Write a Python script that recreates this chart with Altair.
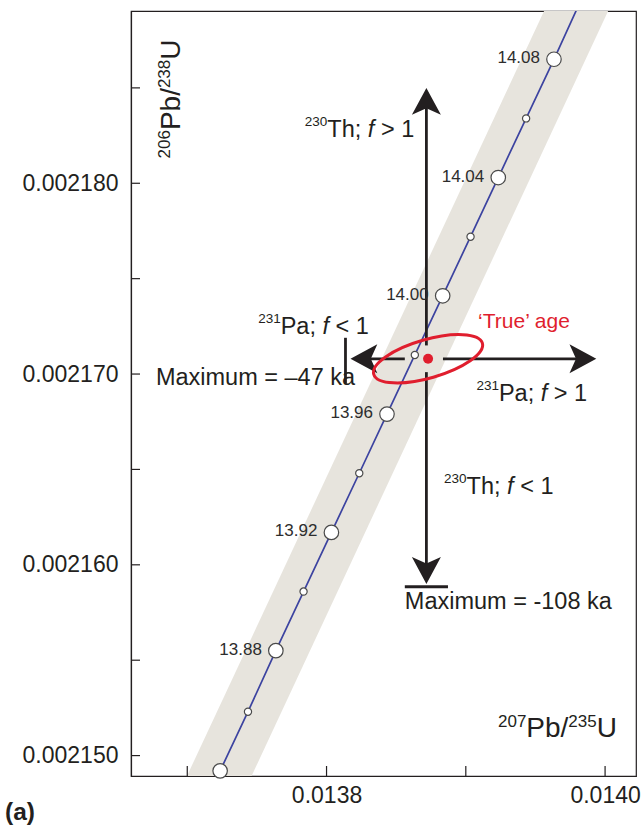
import altair as alt
import pandas as pd

# ---------------- data ----------------
ages = [13.84, 13.86, 13.88, 13.90, 13.92, 13.94, 13.96, 13.98, 14.00, 14.02, 14.04, 14.06, 14.08]
pb207_u235 = [0.0137236, 0.0137436, 0.0137636, 0.0137835, 0.0138035, 0.0138235, 0.0138434,
              0.0138634, 0.0138834, 0.0139034, 0.0139233, 0.0139433, 0.0139633]
pb206_u238 = [0.0021492, 0.0021523, 0.0021555, 0.0021586, 0.0021617, 0.0021648, 0.0021679,
              0.0021710, 0.0021741, 0.0021772, 0.0021803, 0.0021834, 0.0021865]
point_kind = ["major", "minor", "major", "minor", "major", "minor", "major",
              "minor", "major", "minor", "major", "minor", "major"]
age_labels = ["", "", "13.88", "", "13.92", "", "13.96", "", "14.00", "", "14.04", "", "14.08"]
# curve continues past the top edge (14.10 Ma)
curve_ext_x = [0.0139833]
curve_ext_y = [0.0021897]

# uncertainty band edges
band_y = [0.00214893, 0.00218903]
band_left = [0.0136998, 0.0139562]
band_right = [0.0137462, 0.0140022]

# 'true' age
true_x = [0.0138729]
true_y = [0.0021708]

# arrows
arrow_x = 0.0138717
arrow_y = 0.0021708
up_seg = [0.0021715, 0.0021841]
down_seg = [0.0021701, 0.0021597]
left_seg = [0.0138562, 0.0138239]
right_seg = [0.0138836, 0.0139853]
tip_up = (0.0138717, 0.0021850)
tip_down = (0.0138717, 0.0021590)
tip_left = (0.0138172, 0.0021708)
tip_right = (0.0139937, 0.0021708)
bar_down_x = [0.0138562, 0.0138872]
bar_down_y = 0.00215885
bar_left_x = 0.0138136
bar_left_y = [0.0021719, 0.0021695]

x_tick_values = [0.0137, 0.0138, 0.0139, 0.0140]
x_label_values = [0.0138, 0.0140]
y_tick_values = [0.00215, 0.002155, 0.00216, 0.002165, 0.00217, 0.002175, 0.00218, 0.002185]
y_label_values = [0.00215, 0.00216, 0.00217, 0.00218]

# ---------------- styling ----------------
FONT = "Liberation Sans"
INK = "#231f20"
RED = "#e01e2e"
LINE = "#3c43a0"
BAND = "#e7e4dd"

xs = alt.Scale(domain=[0.0136596, 0.0140222], nice=False, zero=False)
ys = alt.Scale(domain=[0.00214893, 0.00218903], nice=False, zero=False)
xaxis = alt.Axis(values=x_label_values, format=".4f", title=None, ticks=False, grid=False,
                 labelFont=FONT, labelFontSize=23, labelColor=INK, labelPadding=8,
                 labelFlush=False, domainColor=INK, domainWidth=1.2)
yaxis = alt.Axis(values=y_label_values, format=".6f", title=None, ticks=False, grid=False,
                 labelFont=FONT, labelFontSize=23, labelColor=INK, labelPadding=13,
                 labelFlush=False, domainColor=INK, domainWidth=1.2)


def X(f):
    return alt.X(f, type="quantitative", scale=xs, axis=xaxis)


def Y(f):
    return alt.Y(f, type="quantitative", scale=ys, axis=yaxis)


layers = []

# band
band_df = pd.DataFrame({"y": band_y, "l": band_left, "r": band_right})
layers.append(alt.Chart(band_df).mark_area(orient="horizontal", color=BAND, clip=True)
              .encode(y=Y("y"), x=X("l"), x2=alt.X2("r")))

# concordia line
line_df = pd.DataFrame({"x": pb207_u235 + curve_ext_x, "y": pb206_u238 + curve_ext_y,
                        "o": list(range(len(pb207_u235) + 1))})
layers.append(alt.Chart(line_df).mark_line(color=LINE, strokeWidth=1.7, clip=True)
              .encode(x=X("x"), y=Y("y"), order="o:Q"))

# inward ticks
ytick_df = pd.DataFrame({"v": y_tick_values})
layers.append(alt.Chart(ytick_df).mark_rule(color=INK, strokeWidth=1.2)
              .encode(y=Y("v"), x=alt.value(0), x2=alt.value(9)))
xtick_df = pd.DataFrame({"v": x_tick_values})
layers.append(alt.Chart(xtick_df).mark_rule(color=INK, strokeWidth=1.2)
              .encode(x=X("v"), y=alt.value(765), y2=alt.value(755)))

# arrow shafts and bars
seg_df = pd.DataFrame({
    "x1": [arrow_x, arrow_x, left_seg[0], right_seg[0], bar_down_x[0], bar_left_x],
    "x2": [arrow_x, arrow_x, left_seg[1], right_seg[1], bar_down_x[1], bar_left_x],
    "y1": [up_seg[0], down_seg[0], arrow_y, arrow_y, bar_down_y, bar_left_y[0]],
    "y2": [up_seg[1], down_seg[1], arrow_y, arrow_y, bar_down_y, bar_left_y[1]],
})
layers.append(alt.Chart(seg_df).mark_rule(color=INK, strokeWidth=2.8)
              .encode(x=X("x1"), x2=alt.X2("x2"), y=Y("y1"), y2=alt.Y2("y2")))

# arrow heads (tip at the origin, pointing up)
HEAD = "M0,0L1,1.85L0,1.4L-1,1.85Z"
for (hx, hy), ang in [(tip_up, 0), (tip_right, 90), (tip_down, 180), (tip_left, 270)]:
    hdf = pd.DataFrame({"x": [hx], "y": [hy]})
    layers.append(alt.Chart(hdf).mark_point(shape=HEAD, size=841, angle=ang, filled=True,
                                            color=INK, opacity=1, strokeWidth=0)
                  .encode(x=X("x"), y=Y("y")))

# error ellipse
ELLIPSE = ("M-1,0C-1,-0.1878,-0.5523,-0.34,0,-0.34C0.5523,-0.34,1,-0.1878,1,0"
           "C1,0.1878,0.5523,0.34,0,0.34C-0.5523,0.34,-1,0.1878,-1,0Z")
true_df = pd.DataFrame({"x": true_x, "y": true_y})
layers.append(alt.Chart(true_df).mark_point(shape=ELLIPSE, size=12769, angle=344, filled=False,
                                            stroke=RED, strokeWidth=3, opacity=1)
              .encode(x=X("x"), y=Y("y")))

# concordia points
pts_df = pd.DataFrame({"x": pb207_u235, "y": pb206_u238, "kind": point_kind, "label": age_labels})
layers.append(alt.Chart(pts_df).mark_point(shape="circle", filled=True, fill="white", stroke="#4a4a4a",
                                           strokeWidth=1.2, opacity=1)
              .encode(x=X("x"), y=Y("y"),
                      size=alt.Size("kind:N", scale=alt.Scale(domain=["major", "minor"], range=[210, 52]),
                                    legend=None)))
layers.append(alt.Chart(pts_df).mark_text(align="right", baseline="middle", dx=-14, dy=-1,
                                          font=FONT, fontSize=17, color="#2d2d2d")
              .encode(x=X("x"), y=Y("y"), text="label:N"))

# true-age dot
layers.append(alt.Chart(true_df).mark_point(shape="circle", filled=True, color=RED, size=100, opacity=1)
              .encode(x=X("x"), y=Y("y")))

# ---------------- annotations with superscripts ----------------
W = {"0": .556, "1": .556, "2": .556, "3": .556, "4": .556, "5": .556, "6": .556, "7": .556,
     "8": .556, "9": .556, "T": .611, "h": .556, ";": .278, " ": .278, "f": .278, ">": .584,
     "<": .584, "P": .667, "a": .556, "b": .556, "/": .278, "U": .722}

STYLE = {
    "main": dict(size=23.5, italic=False, dy=0, color=INK),
    "ital": dict(size=23.5, italic=True, dy=0, color=INK),
    "sup": dict(size=13.5, italic=False, dy=-11, color=INK),
    "red": dict(size=21, italic=False, dy=0, color=RED),
    "title": dict(size=28, italic=False, dy=0, color=INK),
    "tsup": dict(size=17, italic=False, dy=-10, color=INK),
}


def tw(s, size):
    return sum(W.get(c, 0.556) for c in s) * size


def annotation(ax, ay, segments, angle=0):
    out = []
    cursor = 0.0
    df = pd.DataFrame({"x": [ax], "y": [ay]})
    for text, kind in segments:
        st = STYLE[kind]
        lead = len(text) - len(text.lstrip(" "))
        shown = text.strip(" ")
        dx = cursor + tw(" " * lead, st["size"])
        kw = dict(align="left", baseline="alphabetic", font=FONT, fontSize=st["size"],
                  color=st["color"], dx=dx, dy=st["dy"], text=shown)
        if st["italic"]:
            kw["fontStyle"] = "italic"
        if angle:
            kw["angle"] = angle
        out.append(alt.Chart(df).mark_text(**kw).encode(x=X("x"), y=Y("y")))
        cursor += tw(text, st["size"])
    return out


ann_text = [
    ((0.0137844, 0.0021824), [("230", "sup"), ("Th; ", "main"), ("f", "ital"), (" > 1", "main")]),
    ((0.0137509, 0.0021721), [("231", "sup"), ("Pa; ", "main"), ("f", "ital"), (" < 1", "main")]),
    ((0.0136775, 0.0021694), [("Maximum = \u201347 ka", "main")]),
    ((0.0138562, 0.0021577), [("Maximum = -108 ka", "main")]),
    ((0.0139088, 0.0021724), [("\u2018True\u2019 age", "red")]),
    ((0.0139076, 0.0021686), [("231", "sup"), ("Pa; ", "main"), ("f", "ital"), (" > 1", "main")]),
    ((0.0138844, 0.0021637), [("230", "sup"), ("Th; ", "main"), ("f", "ital"), (" < 1", "main")]),
    ((0.0139231, 0.0021510), [("207", "tsup"), ("Pb/", "title"), ("235", "tsup"), ("U", "title")]),
]
for (ax, ay), segs in ann_text:
    layers += annotation(ax, ay, segs)

# rotated y title
layers += annotation(0.0136948, 0.0021813,
                     [("206", "tsup"), ("Pb/", "title"), ("238", "tsup"), ("U", "title")], angle=270)

# panel letter
layers.append(alt.Chart(pd.DataFrame({"t": ["(a)"]})).mark_text(
    align="left", baseline="alphabetic", font=FONT, fontSize=24.5, fontWeight="bold", color=INK)
    .encode(x=alt.value(-126), y=alt.value(809), text="t:N"))

chart = alt.layer(*layers).properties(
    width=505, height=765,
    padding={"left": 131, "top": 11, "right": 8, "bottom": 49},
    autosize=alt.AutoSizeParams(type="none"),
    background="white",
).configure_view(stroke=INK, strokeWidth=1.2)

chart.save("out.html", embed_options={"renderer": "svg", "actions": False})
